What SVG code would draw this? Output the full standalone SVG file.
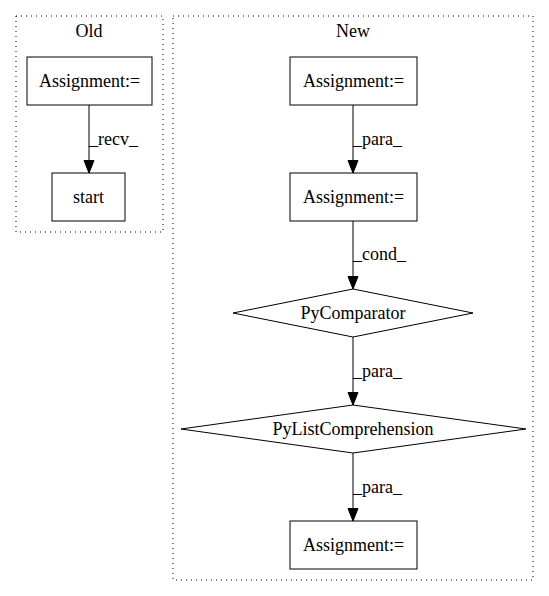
<svg xmlns="http://www.w3.org/2000/svg" width="549" height="596" viewBox="0 0 549 596">
<defs>
<marker id="arr" markerWidth="14" markerHeight="12" refX="13" refY="5.5" orient="auto" markerUnits="userSpaceOnUse">
<path d="M0.5,0.5 L13,5.5 L0.5,10.5 Z" fill="#000" stroke="#000"/>
</marker>
</defs>
<style>
text{font-family:"Liberation Serif","Times New Roman",serif;font-size:18px;fill:#000}
.c{fill:none;stroke:#000;stroke-dasharray:1,4}
.n{fill:#fff;stroke:#000;stroke-width:1}
.e{fill:none;stroke:#000;stroke-width:1;marker-end:url(#arr)}
.m{text-anchor:middle}
</style>
<rect width="549" height="596" fill="#fff"/>
<g id="cluster_old">
<rect class="c" x="16" y="16" width="147" height="216"/>
<text class="m" x="89" y="37">Old</text>
</g>
<g id="cluster_new">
<rect class="c" x="173" y="16" width="360" height="564"/>
<text class="m" x="353" y="37">New</text>
</g>
<g id="connectors">
<path class="e" d="M89,105 L89,173"/>
<text x="89" y="145">_recv_</text>
<path class="e" d="M353,105 L353,173"/>
<text x="353" y="145">_para_</text>
<path class="e" d="M353,221 L353,289"/>
<text x="353" y="260">_cond_</text>
<path class="e" d="M353,337 L353,405"/>
<text x="353" y="377">_para_</text>
<path class="e" d="M353,453 L353,521"/>
<text x="353" y="493">_para_</text>
</g>
<g id="old_assign">
<rect class="n" x="27" y="57" width="125" height="48"/>
<text class="m" x="89.5" y="87">Assignment:=</text>
</g>
<g id="old_start">
<rect class="n" x="52" y="173" width="73" height="48"/>
<text class="m" x="88.5" y="203">start</text>
</g>
<g id="new_assign1">
<rect class="n" x="290" y="57" width="127" height="48"/>
<text class="m" x="353.5" y="87">Assignment:=</text>
</g>
<g id="new_assign2">
<rect class="n" x="290" y="173" width="127" height="48"/>
<text class="m" x="353.5" y="203">Assignment:=</text>
</g>
<g id="new_comparator">
<polygon class="n" points="353,289 473,313 353,337 233,313"/>
<text class="m" x="353" y="319">PyComparator</text>
</g>
<g id="new_listcomp">
<polygon class="n" points="353,405 526,429 353,453 181,429"/>
<text class="m" x="353" y="435">PyListComprehension</text>
</g>
<g id="new_assign3">
<rect class="n" x="290" y="521" width="127" height="48"/>
<text class="m" x="353.5" y="551">Assignment:=</text>
</g>
</svg>
